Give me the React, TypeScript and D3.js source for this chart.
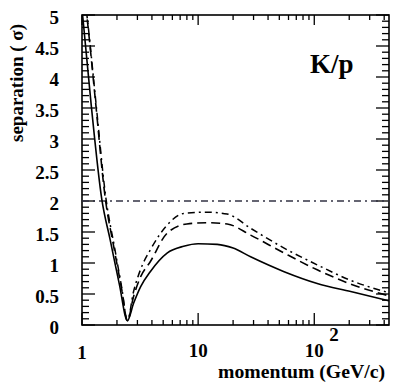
import React from "react";
import * as d3 from "d3";

// momentum (GeV/c) and separation (sigma) for the three curves
const solidP = [1, 1.2, 1.48, 1.75, 2.1, 2.46, 2.78, 3.2, 3.87, 5.4, 7.5, 10, 14.6, 20, 28.3, 55, 106, 206, 440];
const solidV = [5.1, 3.55, 2.03, 1.37, 0.65, 0.07, 0.35, 0.62, 0.86, 1.16, 1.27, 1.31, 1.3, 1.24, 1.1, 0.86, 0.67, 0.54, 0.39];

const dashP = [1, 1.11, 1.3, 1.58, 1.9, 2.2, 2.46, 2.78, 3.2, 3.87, 5.4, 8, 12, 17.8, 28.3, 55, 106, 206, 440];
const dashV = [5.6, 4.92, 3.65, 2.07, 1.21, 0.57, 0.07, 0.46, 0.78, 1.02, 1.48, 1.63, 1.65, 1.63, 1.45, 1.16, 0.89, 0.66, 0.47];

const dotP = [1, 1.11, 1.3, 1.6, 1.92, 2.2, 2.46, 2.78, 3.2, 3.87, 5.4, 7.5, 12, 17.8, 28.3, 55, 106, 206, 440];
const dotV = [5.6, 4.95, 3.7, 2.07, 1.22, 0.6, 0.07, 0.54, 0.9, 1.21, 1.61, 1.8, 1.82, 1.79, 1.56, 1.24, 0.97, 0.72, 0.52];

const thresholdV = 2;

const yTickLabels = ["0", "0.5", "1", "1.5", "2", "2.5", "3", "3.5", "4", "4.5", "5"];
const xMajor = [1, 10, 100];
const xDomain = [1, 440];
const yDomain = [0, 5];

const FONT = "'Liberation Serif', 'Times New Roman', serif";

export default function App() {
  const L = 82, R = 389, T = 15, B = 325;
  const x = d3.scaleLog().domain(xDomain).range([L, R]);
  const y = d3.scaleLinear().domain(yDomain).range([B, T]);

  const line = d3
    .line<[number, number]>()
    .x((d) => x(d[0]))
    .y((d) => y(d[1]))
    .curve(d3.curveMonotoneX);

  const zip = (a: number[], b: number[]) => a.map((p, i) => [p, b[i]] as [number, number]);

  const xTicks: { v: number; major: boolean }[] = [];
  for (let dec = 1; dec <= 100; dec *= 10) {
    for (let m = 1; m <= 9; m++) {
      const v = dec * m;
      if (v > xDomain[1]) break;
      xTicks.push({ v, major: m === 1 });
    }
  }
  const yTicks: { v: number; major: boolean }[] = [];
  for (let i = 0; i <= 50; i++) {
    yTicks.push({ v: i / 10, major: i % 5 === 0 });
  }

  return (
    <svg width={395} height={384} style={{ display: "block", position: "absolute", left: 0, top: 0 }}>
      <rect x={0} y={0} width={395} height={384} fill="#fff" />
      <defs>
        <clipPath id="plot">
          <rect x={L} y={T} width={R - L} height={B - T} />
        </clipPath>
      </defs>

      {xTicks.map((t, i) => (
        <g key={"xt" + i}>
          <line x1={x(t.v)} x2={x(t.v)} y1={B} y2={B - (t.major ? 12 : 5)} stroke="#000" strokeWidth={1.3} />
          <line x1={x(t.v)} x2={x(t.v)} y1={T} y2={T + (t.major ? 10 : 5)} stroke="#000" strokeWidth={1.3} />
        </g>
      ))}
      {yTicks.map((t, i) => (
        <g key={"yt" + i}>
          <line x1={L} x2={L + (t.major ? 13 : 7)} y1={y(t.v)} y2={y(t.v)} stroke="#000" strokeWidth={1.3} />
          <line x1={R} x2={R - (t.major ? 13 : 7)} y1={y(t.v)} y2={y(t.v)} stroke="#000" strokeWidth={1.3} />
        </g>
      ))}

      <rect x={L} y={T} width={R - L} height={B - T} fill="none" stroke="#000" strokeWidth={1.6} />

      <g clipPath="url(#plot)" fill="none" stroke="#000">
        <line x1={x(xDomain[0])} x2={x(xDomain[1])} y1={y(thresholdV)} y2={y(thresholdV)} stroke="#334" strokeWidth={1.3} strokeDasharray="7,4,2,4" />
        <path d={line(zip(solidP, solidV)) || ""} strokeWidth={1.6} />
        <path d={line(zip(dashP, dashV)) || ""} strokeWidth={1.6} strokeDasharray="9,5" />
        <path d={line(zip(dotP, dotV)) || ""} strokeWidth={1.5} strokeDasharray="7,4,2,4" />
      </g>

      {yTickLabels.map((s) => (
        <text key={"yl" + s} x={59} y={y(+s) + 2} textAnchor="end" dominantBaseline="central" fontFamily={FONT} fontWeight="bold" fontSize={19} fill="#000">
          {s}
        </text>
      ))}

      <text x={x(xMajor[0])} y={359} textAnchor="middle" fontFamily={FONT} fontWeight="bold" fontSize={19}>1</text>
      <text x={x(xMajor[1])} y={357} textAnchor="middle" fontFamily={FONT} fontWeight="bold" fontSize={19}>10</text>
      <text x={x(xMajor[2])} y={357} textAnchor="middle" fontFamily={FONT} fontWeight="bold" fontSize={19}>10</text>
      <text x={x(xMajor[2]) + 15} y={341} textAnchor="start" fontFamily={FONT} fontWeight="bold" fontSize={19}>2</text>

      <text x={218} y={378} textLength={167} lengthAdjust="spacingAndGlyphs" fontFamily={FONT} fontWeight="bold" fontSize={19}>momentum (GeV/c)</text>
      <text transform="translate(23,83) rotate(-90)" textAnchor="middle" fontFamily={FONT} fontWeight="bold" fontSize={19}>separation ( σ)</text>

      <text x={310} y={73} fontFamily={FONT} fontWeight="bold" fontSize={27}>K/p</text>
    </svg>
  );
}
